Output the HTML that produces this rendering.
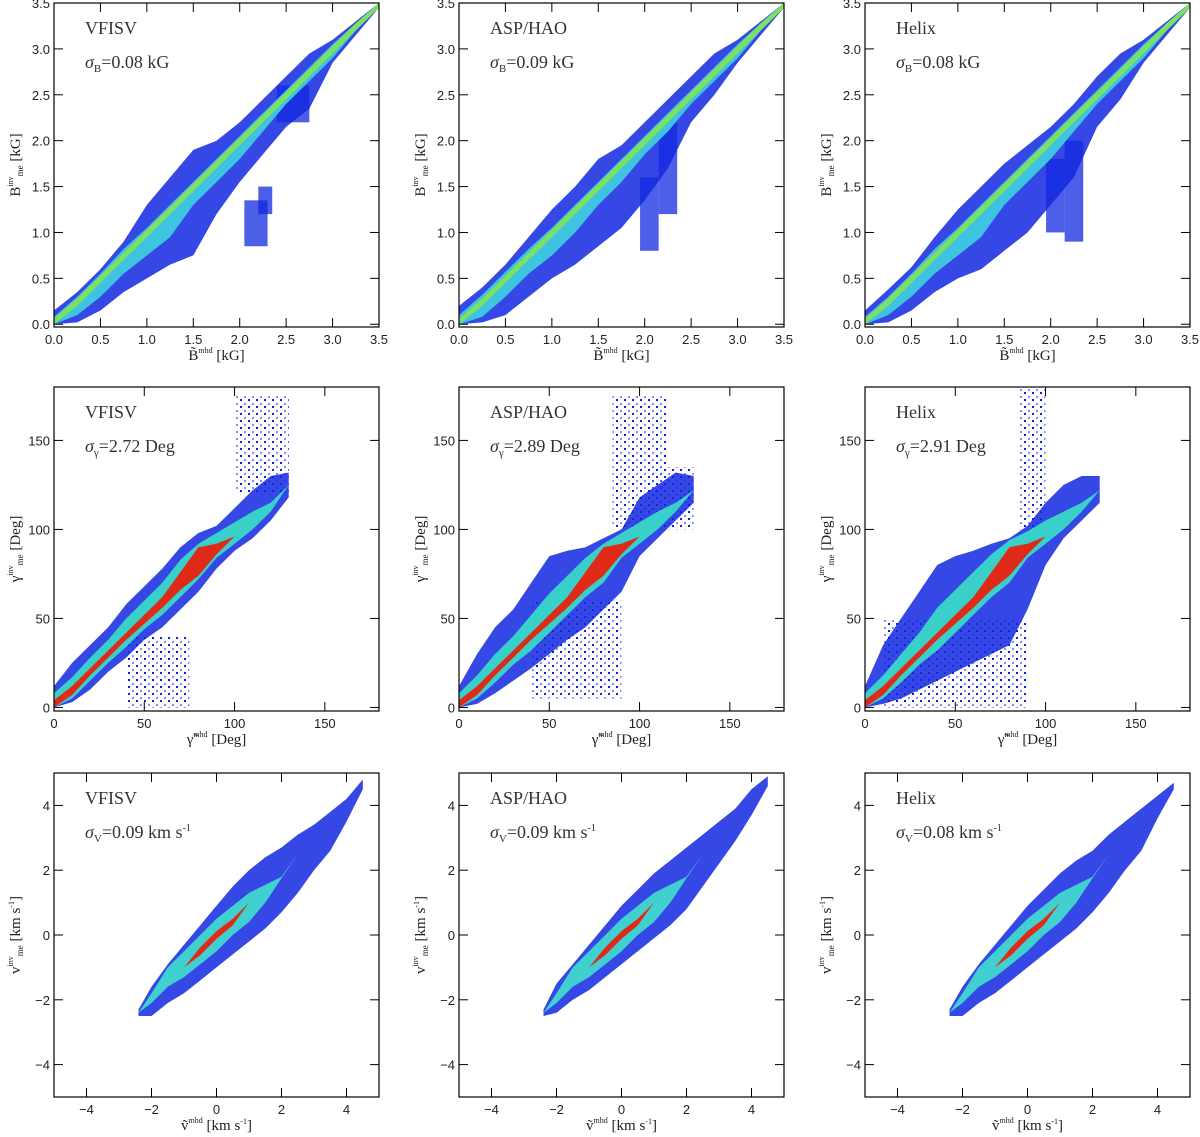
<!DOCTYPE html>
<html><head><meta charset="utf-8">
<style>
html,body{margin:0;padding:0;background:#fff;}
svg{display:block;font-family:"Liberation Sans","DejaVu Sans",sans-serif;}
.t{font-size:13px;fill:#222;}
.lab{font-size:15px;fill:#222;font-family:"Liberation Serif","DejaVu Serif",serif;}
.ttl{font-size:18px;fill:#333;font-family:"Liberation Serif","DejaVu Serif",serif;}
</style></head>
<body>
<svg id="fig" width="1200" height="1137" viewBox="0 0 1200 1137" xmlns="http://www.w3.org/2000/svg">
<defs>
<pattern id="sparse" width="8" height="7" patternUnits="userSpaceOnUse">
<rect x="0" y="0" width="2" height="2" fill="#0a1ee6"/><rect x="4" y="4" width="2" height="2" fill="#0a1ee6" opacity="0.5"/>
</pattern>
</defs>
</svg>
<script>
// ---------- Row 1: field strength B (kG) ----------
const bXs = [0,0.25,0.5,0.75,1,1.25,1.5,1.75,2,2.25,2.5,2.75,3,3.25,3.5];
const bVfOuterLo = [0,0.02,0.15,0.35,0.5,0.65,0.75,1.2,1.55,1.85,2.15,2.35,2.85,3.15,3.45];
const bVfOuterHi = [0.15,0.35,0.6,0.9,1.3,1.6,1.9,2.0,2.2,2.45,2.7,2.95,3.1,3.3,3.5];
const bVfMidLo = [0,0.1,0.3,0.55,0.75,0.95,1.3,1.55,1.8,2.1,2.4,2.65,2.9,3.2,3.45];
const bVfMidHi = [0.08,0.3,0.55,0.82,1.05,1.3,1.55,1.8,2.05,2.3,2.55,2.8,3.05,3.28,3.5];
const bVfBlobs = [[2.05,2.3,0.85,1.35],[2.2,2.35,1.2,1.5],[2.4,2.75,2.2,2.6]];
const bAsOuterLo = [0,0.02,0.1,0.3,0.5,0.65,0.85,1.05,1.35,1.7,2.2,2.5,2.85,3.15,3.45];
const bAsOuterHi = [0.2,0.4,0.65,0.95,1.25,1.5,1.8,1.95,2.2,2.45,2.7,2.95,3.1,3.3,3.5];
const bAsMidLo = [0,0.08,0.3,0.55,0.75,1.0,1.3,1.55,1.85,2.1,2.4,2.65,2.9,3.2,3.45];
const bAsMidHi = [0.1,0.32,0.57,0.82,1.05,1.3,1.55,1.8,2.05,2.3,2.55,2.8,3.05,3.28,3.5];
const bAsBlobs = [[1.95,2.15,0.8,1.6],[2.15,2.35,1.2,2.2]];
const bHxOuterLo = [0,0.02,0.15,0.35,0.5,0.6,0.8,1.0,1.3,1.6,2.15,2.45,2.85,3.15,3.45];
const bHxOuterHi = [0.15,0.38,0.62,0.95,1.25,1.5,1.75,1.95,2.15,2.4,2.7,2.95,3.1,3.3,3.5];
const bHxMidLo = [0,0.1,0.3,0.55,0.75,0.95,1.3,1.55,1.8,2.1,2.4,2.65,2.9,3.2,3.45];
const bHxMidHi = [0.08,0.3,0.55,0.82,1.05,1.3,1.55,1.8,2.05,2.3,2.55,2.8,3.05,3.28,3.5];
const bHxBlobs = [[1.95,2.15,1.0,1.8],[2.15,2.35,0.9,2.0]];
const bCoreLo = [0,0.2,0.45,0.7,0.95,1.2,1.45,1.7,1.95,2.2,2.45,2.7,2.95,3.2,3.45];
const bCoreHi = [0.06,0.28,0.53,0.78,1.03,1.28,1.53,1.78,2.03,2.28,2.53,2.78,3.03,3.28,3.5];
const bTicks = [0,0.5,1,1.5,2,2.5,3,3.5];
const bTickLabels = ["0.0","0.5","1.0","1.5","2.0","2.5","3.0","3.5"];

// ---------- Row 2: inclination gamma (deg) ----------
const gXs = [0,10,20,30,40,50,60,70,80,90,100,110,120,130];
const gVfOuterLo = [0,3,10,20,28,38,45,55,65,78,88,95,105,118];
const gVfOuterHi = [12,25,35,45,58,68,78,90,98,102,112,122,130,132];
const gVfMidLo = [0,5,15,25,34,44,52,62,72,84,92,100,110,125];
const gVfMidHi = [8,17,28,38,50,60,70,83,92,98,104,110,115,125];
const gVfSparse = [[40,75,0,40],[100,130,120,175]];
const gAsOuterLo = [0,2,8,15,22,30,38,45,55,65,85,95,105,115];
const gAsOuterHi = [12,30,45,55,70,85,88,90,95,100,118,125,132,130];
const gAsMidLo = [0,5,14,24,32,42,52,62,70,84,92,100,110,122];
const gAsMidHi = [8,18,30,40,52,64,74,84,92,98,104,110,115,122];
const gAsSparse = [[40,90,5,60],[85,115,100,175],[105,130,100,135]];
const gHxOuterLo = [0,2,5,10,15,20,25,30,35,55,80,95,105,115];
const gHxOuterHi = [12,35,50,65,80,85,88,92,95,102,115,125,130,130];
const gHxMidLo = [0,5,14,24,32,42,52,62,70,84,92,100,110,122];
const gHxMidHi = [8,18,30,42,56,66,76,86,94,99,105,110,115,122];
const gHxSparse = [[10,90,0,50],[85,100,100,180]];
const gCoreLo = [0,7,18,28,38,47,56,66,74,86,96,100,110,125];
const gCoreHi = [4,12,22,32,42,52,62,76,90,92,96,100,110,125];
const gTicks = [0,50,100,150];
const gTickLabels = ["0","50","100","150"];

// ---------- Row 3: velocity v (km/s) ----------
const vXs = [-2.4,-2,-1.5,-1,-0.5,0,0.5,1,1.5,2,2.5,3,3.5,4,4.5];
const vVfOuterLo = [-2.5,-2.5,-2.1,-1.8,-1.4,-1.0,-0.6,-0.2,0.2,0.7,1.3,2.0,2.6,3.5,4.5];
const vVfOuterHi = [-2.3,-1.6,-0.9,-0.3,0.3,0.9,1.5,2.0,2.4,2.7,3.1,3.4,3.8,4.2,4.8];
const vAsOuterLo = [-2.5,-2.4,-2.0,-1.7,-1.3,-0.9,-0.5,-0.1,0.3,0.8,1.5,2.2,2.9,3.7,4.6];
const vAsOuterHi = [-2.3,-1.5,-0.9,-0.3,0.3,0.9,1.4,1.9,2.3,2.7,3.1,3.5,3.9,4.5,4.9];
const vHxOuterLo = [-2.5,-2.5,-2.1,-1.8,-1.4,-1.0,-0.6,-0.2,0.2,0.7,1.3,2.0,2.6,3.6,4.5];
const vHxOuterHi = [-2.3,-1.6,-0.9,-0.3,0.3,0.9,1.4,1.9,2.3,2.6,3.1,3.5,3.9,4.3,4.7];
const vMidLo = [-2.4,-2.1,-1.6,-1.3,-0.9,-0.5,0,0.4,1.0,1.75,2.5,3,3.5,4,4.5];
const vMidHi = [-2.4,-1.8,-1.0,-0.5,0,0.5,0.9,1.3,1.55,1.8,2.5,3,3.5,4,4.5];
const vCoreLo = [-2.4,-2,-1.5,-1,-0.62,-0.12,0.3,1,1.5,2,2.5,3,3.5,4,4.5];
const vCoreHi = [-2.4,-2,-1.5,-1,-0.38,0.12,0.5,1,1.5,2,2.5,3,3.5,4,4.5];
const vTicks = [-4,-2,0,2,4];
const vTickLabels = ["\u22124","\u22122","0","2","4"];

// ---------- labels ----------
const methodNames = ["VFISV","ASP/HAO","Helix"];
const bSigma = ["0.08","0.09","0.08"];
const gSigma = ["2.72","2.89","2.91"];
const vSigma = ["0.09","0.09","0.08"];

const NS = "http://www.w3.org/2000/svg";
const svg = document.getElementById('fig');
function mk(tag, attrs, parent){ const e=document.createElementNS(NS,tag); for(const k in attrs) e.setAttribute(k,attrs[k]); (parent||svg).appendChild(e); return e; }

const colX = [54,459,865];
const rowY = [3,387,773];
const PW = 325, PH = 324;

function band(g, sx, sy, xs, lo, hi, fill, name, op){
  let d = "M"+xs.map((x,i)=>sx(x).toFixed(1)+","+sy(hi[i]).toFixed(1)).join(" L");
  for(let i=xs.length-1;i>=0;i--) d += " L"+sx(xs[i]).toFixed(1)+","+sy(lo[i]).toFixed(1);
  const p = mk('path',{d:d+" Z",fill:fill,opacity:op||1},g);
  
  
}
function rects(g, sx, sy, list, fill, name, op){
  list.forEach(r=>{
    const e = mk('rect',{x:sx(r[0]),y:sy(r[3]),width:sx(r[1])-sx(r[0]),height:sy(r[2])-sy(r[3]),fill:fill,opacity:op||1},g);
    
    
  });
}

function panel(row, col, cfg){
  const x0=colX[col], y0=rowY[row];
  const g = mk('g',{});
  
  
  const sx = v => x0 + (v-cfg.xmin)/(cfg.xmax-cfg.xmin)*PW;
  const sy = v => y0 + PH - (v-cfg.ymin)/(cfg.ymax-cfg.ymin)*PH;
  const clipId = 'clip'+row+col;
  const cp = mk('clipPath',{id:clipId},g); mk('rect',{x:x0,y:y0,width:PW,height:PH},cp);
  const data = mk('g',{'clip-path':'url(#'+clipId+')'},g);
  
  
  if(cfg.sparse) rects(data,sx,sy,cfg.sparse,'url(#sparse)','sparse-region');
  band(data,sx,sy,cfg.xs,cfg.oLo,cfg.oHi,'#1228e0','outer-density-band',0.85);
  if(cfg.blobs) rects(data,sx,sy,cfg.blobs,'#1228e0','outlier-blob',0.75);
  band(data,sx,sy,cfg.xs,cfg.mLo,cfg.mHi,cfg.midColor,'mid-density-band');
  band(data,sx,sy,cfg.xs,cfg.cLo,cfg.cHi,cfg.coreColor,'core-density-band');
  const fr = mk('rect',{x:x0,y:y0,width:PW,height:PH,fill:'none',stroke:'#000','stroke-width':1.2},g);
  
  
  cfg.ticks.forEach((t,i)=>{
    const X=sx(t), Y=sy(t);
    if(X>x0+1 && X<x0+PW-1){
      mk('line',{x1:X,y1:y0+PH,x2:X,y2:y0+PH-9,stroke:'#000'},g);
      mk('line',{x1:X,y1:y0,x2:X,y2:y0+9,stroke:'#000'},g);
    }
    if(Y>y0+1 && Y<y0+PH-1){
      mk('line',{x1:x0,y1:Y,x2:x0+9,y2:Y,stroke:'#000'},g);
      mk('line',{x1:x0+PW,y1:Y,x2:x0+PW-9,y2:Y,stroke:'#000'},g);
    }
    const tx = mk('text',{x:X,y:y0+PH+17,'text-anchor':'middle',class:'t'},g);
    tx.textContent = cfg.tickLabels[i];
    
    
    const ty = mk('text',{x:x0-4,y:Y+5,'text-anchor':'end',class:'t'},g);
    ty.textContent = cfg.tickLabels[i];
    
    
  });
  const t1 = mk('text',{x:x0+31,y:y0+31,class:'ttl'},g);
  t1.textContent = methodNames[col];
  
  
  const t2 = mk('text',{x:x0+31,y:y0+65,class:'ttl'},g);
  t2.innerHTML = '<tspan font-style="italic">σ</tspan><tspan font-size="11" dy="4">'+cfg.sym+'</tspan><tspan dy="-4">='+cfg.sigma+'  '+cfg.unitHtml+'</tspan>';
  
  
  const xt = mk('text',{x:x0+PW/2,y:y0+PH+33,'text-anchor':'middle',class:'lab'},g);
  xt.innerHTML = cfg.xTitle;
  
  
  const yt = mk('text',{x:0,y:0,'text-anchor':'middle',class:'lab',transform:'translate('+(x0-34)+','+(y0+PH/2)+') rotate(-90)'},g);
  yt.innerHTML = cfg.yTitle;
  
  
}

const bSets = [[bVfOuterLo,bVfOuterHi,bVfMidLo,bVfMidHi,bVfBlobs],[bAsOuterLo,bAsOuterHi,bAsMidLo,bAsMidHi,bAsBlobs],[bHxOuterLo,bHxOuterHi,bHxMidLo,bHxMidHi,bHxBlobs]];
const gSets = [[gVfOuterLo,gVfOuterHi,gVfMidLo,gVfMidHi,gVfSparse],[gAsOuterLo,gAsOuterHi,gAsMidLo,gAsMidHi,gAsSparse],[gHxOuterLo,gHxOuterHi,gHxMidLo,gHxMidHi,gHxSparse]];
const vSets = [[vVfOuterLo,vVfOuterHi],[vAsOuterLo,vAsOuterHi],[vHxOuterLo,vHxOuterHi]];

for(let c=0;c<3;c++){
  panel(0,c,{xmin:0,xmax:3.5,ymin:-0.03,ymax:3.5,xs:bXs,oLo:bSets[c][0],oHi:bSets[c][1],mLo:bSets[c][2],mHi:bSets[c][3],blobs:bSets[c][4],
    cLo:bCoreLo,cHi:bCoreHi,midColor:'#3ec4e0',coreColor:'#7ee060',ticks:bTicks,tickLabels:bTickLabels,
    sym:'B',sigma:bSigma[c],unitHtml:'kG',
    xTitle:'B̃<tspan font-size="8" dy="-7">mhd</tspan><tspan dy="7"> [kG]</tspan>',
    yTitle:'B<tspan font-size="8" dy="-7">inv</tspan><tspan font-size="9" dy="10">me</tspan><tspan dy="-3"> [kG]</tspan>'});
  panel(1,c,{xmin:0,xmax:180,ymin:-2,ymax:180,xs:gXs,oLo:gSets[c][0],oHi:gSets[c][1],mLo:gSets[c][2],mHi:gSets[c][3],sparse:gSets[c][4],
    cLo:gCoreLo,cHi:gCoreHi,midColor:'#38d0c8',coreColor:'#e02a18',ticks:gTicks,tickLabels:gTickLabels,
    sym:'γ',sigma:gSigma[c],unitHtml:'Deg',
    xTitle:'γ̃<tspan font-size="8" dy="-7">mhd</tspan><tspan dy="7"> [Deg]</tspan>',
    yTitle:'γ<tspan font-size="8" dy="-7">inv</tspan><tspan font-size="9" dy="10">me</tspan><tspan dy="-3"> [Deg]</tspan>'});
  panel(2,c,{xmin:-5,xmax:5,ymin:-5,ymax:5,xs:vXs,oLo:vSets[c][0],oHi:vSets[c][1],mLo:vMidLo,mHi:vMidHi,
    cLo:vCoreLo,cHi:vCoreHi,midColor:'#40d0d0',coreColor:'#e02a18',ticks:vTicks,tickLabels:vTickLabels,
    sym:'V',sigma:vSigma[c],unitHtml:'km  s<tspan font-size="10" dy="-7">-1</tspan>',
    xTitle:'ṽ<tspan font-size="8" dy="-7">mhd</tspan><tspan dy="7"> [km s</tspan><tspan font-size="8" dy="-6">-1</tspan><tspan dy="6">]</tspan>',
    yTitle:'v<tspan font-size="8" dy="-7">inv</tspan><tspan font-size="9" dy="10">me</tspan><tspan dy="-3"> [km s</tspan><tspan font-size="8" dy="-6">-1</tspan><tspan dy="6">]</tspan>'});
}
</script>
</body></html>
